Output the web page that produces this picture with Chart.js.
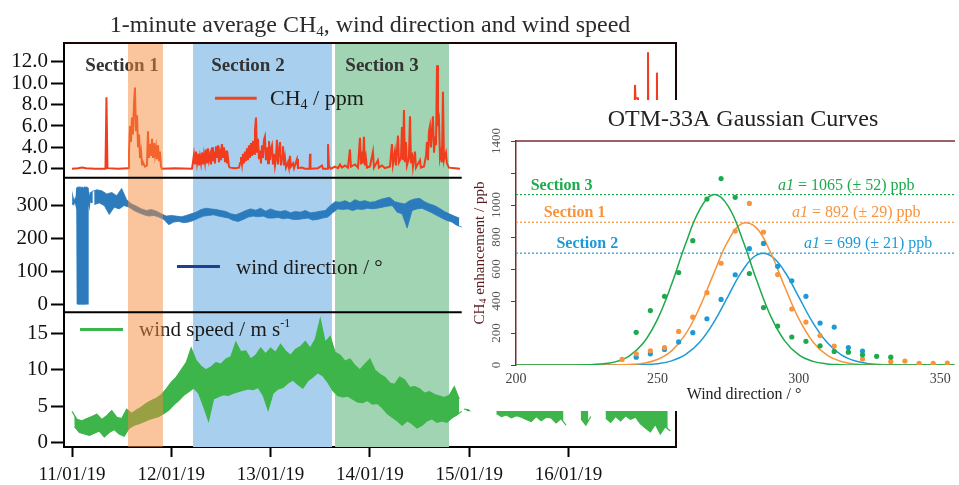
<!DOCTYPE html>
<html><head><meta charset="utf-8">
<script src="https://cdn.jsdelivr.net/npm/chart.js@4.4.1/dist/chart.umd.min.js"></script>
<style>
html,body{margin:0;padding:0;background:#fff;overflow:hidden}
#wrap{position:relative;width:959px;height:485px}
#main{position:absolute;left:0;top:0}
#inset{position:absolute;left:470px;top:100px;background:#fff}
</style></head><body>
<div id="wrap"><canvas id="main" width="959" height="485"></canvas><canvas id="inset" width="489" height="311"></canvas></div>
<script>
const SERIF = '"Liberation Serif","Times New Roman",serif';

// ===== Left chart: time axis in days after 11/01/19 00:00 =====
const dateTickDays = [0,1,2,3,4,5];
const dateLabels = ['11/01/19','12/01/19','13/01/19','14/01/19','15/01/19','16/01/19'];
const ch4Ticks = [2,4,6,8,10,12];
const wdTicks = [0,100,200,300];
const wsTicks = [0,5,10,15];

const sectionNames = ['Section 1','Section 2','Section 3'];
const sectionStartDay = [0.564,1.219,2.649];
const sectionEndDay   = [0.916,2.618,3.797];

// CH4 (ppm)
const ch4Day = [
 0.000,0.060,0.101,0.141,0.232,0.337,0.347,0.357,0.463,0.564,
 0.574,0.584,0.594,0.604,0.614,0.624,0.634,0.644,0.655,0.665,0.675,0.685,0.695,0.705,0.715,0.735,0.755,0.765,0.775,0.785,0.795,0.806,0.816,0.826,0.836,0.846,0.856,0.866,0.876,0.886,0.896,0.906,1.037,1.208,
 1.218,1.228,1.238,1.249,1.259,1.269,1.279,1.289,1.299,1.309,1.319,1.329,1.339,1.349,1.359,1.369,1.379,1.390,1.400,1.410,1.420,1.430,1.440,1.450,1.460,1.470,1.480,1.490,1.500,1.510,1.521,1.531,1.541,1.551,1.561,1.571,1.581,1.591,1.641,1.682,
 1.692,1.702,1.712,1.722,1.732,1.742,1.752,1.762,1.772,1.782,1.792,1.803,1.813,1.823,1.833,1.843,1.853,1.863,1.873,1.883,1.893,1.903,1.913,1.923,1.933,1.943,1.953,1.964,1.974,1.984,1.994,2.004,2.014,2.024,2.034,2.044,2.054,2.064,2.074,2.084,2.095,2.105,2.115,2.125,2.135,2.145,2.155,
 2.175,2.185,2.195,2.205,2.226,2.236,2.266,2.276,2.316,2.346,2.392,2.397,2.402,2.477,2.518,2.528,2.573,2.578,2.588,2.608,
 2.648,2.679,2.699,2.719,2.749,2.779,2.799,2.809,2.850,2.880,2.900,2.910,2.920,2.930,2.940,2.950,2.960,2.970,3.001,3.031,3.041,3.081,3.091,3.122,3.152,3.202,3.222,3.232,3.252,3.262,3.283,3.293,3.313,3.323,3.333,3.343,3.353,3.363,3.373,3.393,3.404,3.414,3.424,3.434,3.454,3.464,3.504,3.514,3.545,3.565,3.575,3.585,3.595,3.605,3.615,3.625,3.635,3.646,3.656,3.666,3.676,3.686,3.696,3.706,3.716,3.726,3.736,3.746,3.756,3.766,3.776,3.796,3.857,3.907,
 4.800,
 5.660,5.670,5.675,5.700,5.705,5.796,5.801,5.806,5.886,5.891,5.896];
const ch4Ppm = [
 2.0,2.05,2.12,2.05,2.0,2.0,8.7,2.05,2.0,2.05,
 3.5,6.0,4.5,6.8,5.2,8.0,9.6,5.5,7.0,4.0,5.2,3.0,3.6,2.4,2.6,2.2,2.3,5.5,3.0,4.3,3.2,4.8,3.0,4.4,3.3,4.0,2.9,4.2,2.7,3.6,2.2,2.0,2.05,2.0,
 2.6,3.3,2.4,3.6,2.6,3.4,2.3,3.1,2.5,3.5,2.4,3.3,2.6,3.8,2.5,3.9,2.8,3.3,2.4,4.0,2.7,3.6,2.5,4.1,3.0,4.2,2.6,3.5,2.8,4.3,3.0,4.0,2.6,3.7,2.5,3.0,2.2,2.1,2.05,2.1,
 2.5,3.1,2.4,3.4,2.5,3.6,2.7,3.9,2.8,4.2,3.0,4.4,3.2,4.6,3.4,5.6,6.8,3.5,4.8,2.9,3.7,2.5,4.2,3.0,4.7,5.0,2.8,4.0,2.5,4.6,2.8,3.9,4.2,2.4,3.4,2.3,3.0,4.7,2.4,3.6,4.5,2.3,3.2,4.1,2.3,3.0,2.1,
 2.6,2.1,3.2,2.2,2.5,2.05,2.9,2.05,2.1,2.0,2.0,3.4,2.0,2.05,2.3,2.0,2.0,4.3,2.2,2.0,
 2.2,2.05,2.4,2.1,2.3,2.1,3.8,2.2,2.4,2.1,4.9,2.4,3.6,2.5,5.0,2.3,3.0,2.1,2.2,3.6,2.1,2.8,2.1,2.3,2.05,2.2,4.3,2.4,3.6,2.3,5.1,2.6,3.0,5.9,2.8,7.5,2.6,4.5,2.3,3.0,6.9,2.5,3.5,2.2,3.6,2.1,2.8,2.1,2.2,3.2,4.5,2.8,5.5,6.0,4.0,5.6,6.9,3.5,5.0,4.2,11.7,6.0,6.5,3.0,3.5,2.6,9.2,2.8,3.2,3.5,2.5,2.1,2.05,2.0,
 null,
 2.0,9.85,8.6,8.6,2.0,2.0,12.9,2.0,2.0,11.0,2.0];

// Wind direction (deg): upper / lower edge of the 1-min band, every 0.05 day from day 0
// (first samples are covered by the 0/360 wrap-around record below)
const wdStart = 0, wdStep = 0.05;
const wdHigh = [null,null,null,null,343,348,345,335,340,330,352,318,305,298,290,285,288,283,275,268,270,268,266,270,275,280,288,292,290,288,285,282,275,272,278,285,290,286,292,283,290,284,282,285,278,282,280,285,278,280,283,285,300,312,310,315,308,318,312,315,310,312,318,322,325,312,308,305,315,320,322,312,305,300,292,282,275,268,262];
const wdLow  = [null,null,null,null,303,308,300,273,295,290,300,295,285,278,272,268,270,265,258,242,250,252,248,250,255,262,268,270,272,268,265,262,255,252,258,265,268,266,268,262,262,264,260,262,258,258,260,262,256,258,262,265,278,290,288,290,285,290,288,292,290,292,295,298,300,280,275,232,285,290,292,285,278,270,262,255,250,240,235];
// start of record incl. the 0/360 wrap-around period
const wdWrapDay = [0.000,0.010,0.020,0.030,0.040,0.050,0.055,0.060,0.065,0.070,0.075,0.080,0.085,0.090,0.095,0.100,0.105,0.110,0.115,0.120,0.125,0.130,0.135,0.140,0.145,0.150,0.155,0.160,0.165,0.175,0.185,0.195,0.200];
const wdWrapDeg = [305,322,308,318,304,355,3,357,1,356,2,358,4,354,1,357,2,356,3,355,1,358,2,356,4,357,2,354,330,305,340,310,343];

// Wind speed (m/s): upper / lower edge of band, every 0.05 day
const wsStart = 0, wsStep = 0.05;
const wsHigh = [4.3,3.2,3.0,3.3,3.6,3.9,3.2,3.7,4.4,3.5,3.3,4.6,4.0,4.5,4.9,5.4,5.8,6.1,6.6,7.4,8.3,9.0,10.0,11.0,13.0,11.3,10.5,10.0,10.4,11.0,10.8,11.5,11.8,13.8,12.5,12.6,11.5,12.0,13.0,12.2,13.0,12.4,13.5,12.6,12.0,12.8,13.2,13.9,13.0,14.2,17.0,13.8,14.6,12.4,12.0,11.2,11.5,10.6,10.0,10.8,11.5,10.0,9.4,9.0,8.2,8.0,9.0,8.6,7.6,7.7,7.4,6.8,7.0,6.6,6.4,6.2,6.5,7.7,6.0];
const wsLow  = [2.2,1.4,1.2,1.0,1.3,1.6,0.8,1.4,1.8,1.2,0.9,2.0,2.4,2.6,2.9,3.2,3.4,3.6,4.0,4.5,5.2,5.8,6.5,7.0,7.5,6.8,5.0,3.0,6.0,6.3,6.6,6.5,6.8,7.0,7.2,7.4,7.3,7.6,6.5,4.5,6.8,7.4,7.6,8.2,8.6,8.0,7.5,8.5,9.0,9.6,9.2,8.3,7.2,6.5,6.3,6.4,6.0,5.6,5.5,5.8,5.3,5.4,4.8,4.0,3.5,3.0,2.4,3.0,2.6,2.0,2.4,3.0,3.3,2.8,3.0,2.8,3.4,3.8,4.3];
const wsLateStart = 3.95;
const wsLateHigh = [4.6,4.5,null,4.5,null,null,5.2,5.8,5.0,6.1,5.5,5.9,5.3,6.0,5.4,5.7,5.1,6.2,5.6,5.0,5.8,null,null,5.5,6.0,5.2,null,null,5.6,5.9,5.1,6.3,5.4,5.8,5.0,6.0,5.5,6.4,5.2,5.9,5.6,5.3];
const wsLateLow  = [4.4,4.4,null,4.4,null,null,4.0,3.6,3.8,3.4,3.7,3.5,3.2,2.9,3.6,3.0,3.5,3.4,2.7,3.3,2.4,null,null,3.3,2.4,3.6,null,null,3.4,2.8,3.6,3.0,3.7,3.2,3.5,2.6,2.0,1.5,2.5,1.2,2.2,1.6];

// ===== Inset: OTM-33A Gaussian curves =====
const insetXTicks = [200,250,300,350];
const insetYTicks = [0,200,400,600,800,1000,1200,1400];
const insetYLabels = ['0','200','400','600','800','1000','','1400'];
const a1Value = [892, 699, 1065];   // Section 1, 2, 3
const a1Err = [29, 21, 52];
const s1Dir = [237.5,242.5,247.5,252.5,257.5,262.5,267.5,272.5,277.5,282.5,287.5,292.5,297.5,302.5,307.5,312.5,322.5,332.5,337.5,342.5,347.5,352.5];
const s1Enh = [35,70,89,109,210,299,452,636,837,1010,831,565,350,268,184,118,37,21,25,10,10,12];
const s2Dir = [242.5,247.5,252.5,257.5,262.5,267.5,272.5,277.5,282.5,287.5,292.5,297.5,302.5,307.5,312.5,317.5,322.5];
const s2Enh = [49,70,97,144,202,289,410,564,727,760,617,526,429,262,237,109,87];
const s3Dir = [242.5,247.5,252.5,257.5,262.5,267.5,272.5,277.5,282.5,287.5,292.5,297.5,302.5,307.5,312.5,317.5,322.5,327.5,332.5];
const s3Enh = [204,340,429,578,777,1037,1165,1048,572,359,243,175,148,120,85,80,64,54,49];
const curveDir = [200,205,210,215,220,225,230,235,240,245,250,255,260,265,270,275,280,285,290,295,300,305,310,315,320,325,330,335,340,345,350,355];
const curve1 = [0,0,0,0,0,0,0.1,0.7,3,11,34,88,194,363,576,776,885,857,703,489,288,144,61,22,6.7,1.7,0.4,0.1,0,0,0,0];
const curve2 = [0,0,0,0,0,0,0,0.1,0.6,2.4,8.5,26,66,144,269,431,588,687,684,583,424,263,140,63,24.6,8.2,2.3,0.55,0.1,0,0,0];
const curve3 = [0,0,0,0.06,0.3,1.5,5.9,19.7,56,137,285,504,759,973,1065,993,788,534,307,151,63,22.6,6.9,1.8,0.4,0.1,0,0,0,0,0,0];

// ---------- helpers ----------
function edge(start, step, vals, shift){ return vals.map((v,i)=>({x:start + i*step + shift, y:v})); }
function pairs(xs, ys){ return xs.map((x,i)=>({x:x, y:ys[i]})); }
function fontStr(p){ return (p.style||'normal')+' '+(p.weight||'normal')+' '+p.size+'px '+SERIF; }
function rich(ctx, parts, x, y, align){
  let w = 0;
  parts.forEach(p=>{ ctx.font = fontStr(p); p.w = ctx.measureText(p.t).width; w += p.w; });
  let cx = align==='center' ? x - w/2 : (align==='right' ? x - w : x);
  ctx.textAlign = 'left';
  parts.forEach(p=>{ ctx.font = fontStr(p); ctx.fillText(p.t, cx, y + (p.dy||0)); cx += p.w; });
}

Chart.defaults.font.family = SERIF;

const SHADE = [
  {color:'rgba(245,140,60,0.5)', over:true},
  {color:'#a8d0ee', over:false},
  {color:'#a0d4b2', over:false}
];
const WD_COL = '#2b7bbd', WS_COL = '#3db54a', CH4_COL = '#f23c1e';

const mainDecor = {
  id:'mainDecor',
  beforeDatasetsDraw(chart){
    const {ctx, chartArea:a, scales:{x}} = chart;
    ctx.save();
    sectionStartDay.forEach((s,i)=>{
      if (SHADE[i].over) return;
      const x0 = x.getPixelForValue(s), x1 = x.getPixelForValue(sectionEndDay[i]);
      ctx.fillStyle = SHADE[i].color;
      ctx.fillRect(x0, a.top, x1-x0, a.bottom-a.top);
    });
    ctx.restore();
  },
  afterDatasetsDraw(chart){
    const {ctx, chartArea:a, scales:{x, yc, yd, ys}} = chart;
    ctx.save();
    ctx.textBaseline = 'alphabetic';
    ctx.fillStyle = '#333';
    const secLabelDay = [0.504,1.772,3.122];
    sectionNames.forEach((n,i)=>{
      rich(ctx, [{t:n, size:19, weight:'bold'}], x.getPixelForValue(secLabelDay[i]), yc.getPixelForValue(11.16), 'center');
    });
    const leg = [
      {sc:yc, v:8.6, x0:1.44, x1:1.86, tx:1.994, col:'#f0441f', parts:[{t:'CH',size:22},{t:'4',size:14,dy:4},{t:' / ppm',size:22}]},
      {sc:yd, v:115, x0:1.057, x1:1.49, tx:1.652, col:'#1f3f8f', parts:[{t:'wind direction / °',size:21}]},
      {sc:ys, v:15.55, x0:0.081, x1:0.514, tx:0.675, col:'#3db54a', parts:[{t:'wind speed / m s',size:21},{t:'-1',size:12,dy:-9}]}
    ];
    leg.forEach(L=>{
      const py = L.sc.getPixelForValue(L.v);
      ctx.strokeStyle = L.col; ctx.lineWidth = 3;
      ctx.beginPath(); ctx.moveTo(x.getPixelForValue(L.x0), py); ctx.lineTo(x.getPixelForValue(L.x1), py); ctx.stroke();
      ctx.fillStyle = '#1a1a1a';
      rich(ctx, L.parts, x.getPixelForValue(L.tx), py + 7, 'left');
    });
    sectionStartDay.forEach((s,i)=>{
      if (!SHADE[i].over) return;
      const x0 = x.getPixelForValue(s), x1 = x.getPixelForValue(sectionEndDay[i]);
      ctx.fillStyle = SHADE[i].color;
      ctx.fillRect(x0, a.top, x1-x0, a.bottom-a.top);
    });
    const recEnd = x.getPixelForValue(wdStart + (wdHigh.length-1)*wdStep + wdStep/2);
    ctx.strokeStyle = '#000'; ctx.lineWidth = 2;
    [yd.top, ys.top].forEach(py=>{ ctx.beginPath(); ctx.moveTo(a.left, py); ctx.lineTo(recEnd, py); ctx.stroke(); });
    ctx.strokeStyle = '#1a0505';
    ctx.beginPath(); ctx.moveTo(a.left, a.top); ctx.lineTo(a.right, a.top); ctx.lineTo(a.right, a.bottom); ctx.stroke();
    ctx.fillStyle = '#2b2b2b';
    rich(ctx, [{t:'1-minute average CH',size:24},{t:'4',size:15,dy:4},{t:', wind direction and wind speed',size:24}], (a.left+a.right)/2, a.top - 11, 'center');
    ctx.restore();
  }
};

const yCommon = (ticksArr, fmt, weight, min, max) => ({
  type:'linear', position:'left', stack:'left', stackWeight:1, weight:weight, min:min, max:max,
  afterFit: s => { s.width = 64; },
  afterBuildTicks: s => { s.ticks = ticksArr.map(v=>({value:v})); },
  ticks:{ callback: fmt, font:{family:SERIF, size:21}, color:'#111', padding:3, autoSkip:false },
  grid:{ drawOnChartArea:false, drawTicks:true, tickLength:13, tickWidth:2, tickColor:'#000', color:'#000' },
  border:{ display:true, color:'#000', width:2 }
});

const band = (data, col, axis, fillTo, bw) => ({data:data, yAxisID:axis, borderColor:col, backgroundColor:col, borderWidth:bw, pointRadius:0, tension:0, spanGaps:false, fill:fillTo});

new Chart(document.getElementById('main'), {
  type:'line',
  data:{ datasets:[
    {data: pairs(ch4Day, ch4Ppm), yAxisID:'yc', borderColor:CH4_COL, borderWidth:2, pointRadius:0, spanGaps:false, tension:0, fill:false},
    band(edge(wdStart, wdStep, wdHigh, 0), WD_COL, 'yd', '+1', 0.8),
    band(edge(wdStart, wdStep, wdLow, wdStep/2), WD_COL, 'yd', false, 0.8),
    {data: pairs(wdWrapDay, wdWrapDeg), yAxisID:'yd', borderColor:WD_COL, borderWidth:1.6, pointRadius:0, tension:0, fill:false},
    band(edge(wsStart, wsStep, wsHigh, 0), WS_COL, 'ys', '+1', 1.2),
    band(edge(wsStart, wsStep, wsLow, wsStep/2), WS_COL, 'ys', false, 1.2),
    band(edge(wsLateStart, wsStep, wsLateHigh, 0), WS_COL, 'ys', '+1', 1.2),
    band(edge(wsLateStart, wsStep, wsLateLow, wsStep/2), WS_COL, 'ys', false, 1.2)
  ]},
  options:{
    responsive:false, animation:false, devicePixelRatio:1,
    layout:{ padding:{left:0, right:283, top:43, bottom:0} },
    plugins:{ legend:{display:false}, title:{display:false}, tooltip:{enabled:false} },
    scales:{
      x:{ type:'linear', position:'bottom', min:-0.0806, max:6.083,
        afterFit: s => { s.height = 38; },
        afterBuildTicks: s => { s.ticks = dateTickDays.map(v=>({value:v})); },
        ticks:{ callback:(v,i)=>dateLabels[i], font:{family:SERIF, size:19}, color:'#111', padding:7, maxRotation:0, autoSkip:false },
        grid:{ drawOnChartArea:false, drawTicks:true, tickLength:10, tickWidth:2, tickColor:'#000', color:'#000' },
        border:{ display:true, color:'#000', width:2 } },
      yc: yCommon(ch4Ticks, v=>Number(v).toFixed(1), 3, 1.159, 13.776),
      yd: yCommon(wdTicks, v=>String(v), 2, -24.2, 384.8),
      ys: yCommon(wsTicks, v=>String(v), 1, -0.59, 17.9)
    }
  },
  plugins:[mainDecor]
});

// ---------- inset ----------
const SEC_COL = ['#f7943c','#1c9ad8','#1caa4c'];
const MAROON = '#7b2e2e';
const insetDecor = {
  id:'insetDecor',
  beforeDatasetsDraw(chart){
    const {ctx, chartArea:a, scales:{y}} = chart;
    ctx.save();
    ctx.lineWidth = 1.2; ctx.setLineDash([2,2]);
    a1Value.forEach((v,i)=>{
      const py = y.getPixelForValue(v);
      ctx.strokeStyle = SEC_COL[i];
      ctx.beginPath(); ctx.moveTo(a.left, py); ctx.lineTo(a.right, py); ctx.stroke();
    });
    ctx.restore();
  },
  afterDraw(chart){
    const {ctx, chartArea:a, scales:{x, y}} = chart;
    ctx.save();
    ctx.strokeStyle = MAROON; ctx.lineWidth = 1.5;
    ctx.beginPath(); ctx.moveTo(a.left, a.top); ctx.lineTo(a.right, a.top); ctx.stroke();
    ctx.fillStyle = '#222'; ctx.textBaseline = 'middle';
    rich(ctx, [{t:'OTM-33A Gaussian Curves', size:24}], a.left + 227, a.top - 21, 'center');
    rich(ctx, [{t:'Wind direction / °', size:16}], a.left + 228, a.bottom + 30, 'center');
    ctx.fillStyle = '#555';
    insetYTicks.forEach((v,i)=>{
      ctx.save(); ctx.translate(a.left - 19, y.getPixelForValue(v)); ctx.rotate(-Math.PI/2);
      ctx.textBaseline = 'middle';
      rich(ctx, [{t:insetYLabels[i], size:13}], 0, 0, 'center');
      ctx.restore();
    });
    ctx.save(); ctx.translate(a.left - 36, (a.top + a.bottom)/2); ctx.rotate(-Math.PI/2);
    ctx.fillStyle = '#5a1c1c'; ctx.textBaseline = 'middle';
    rich(ctx, [{t:'CH',size:15},{t:'4',size:10,dy:3},{t:' enhancement / ppb',size:15}], 0, 0, 'center');
    ctx.restore();
    const secLabelDir = [220.7, 225.2, 216.1];
    const a1LabelEnd = [343.0, 347.2, 340.9];
    const secNames = ['Section 1','Section 2','Section 3'];
    ctx.textBaseline = 'middle';
    a1Value.forEach((v,i)=>{
      const py = y.getPixelForValue(v) - 9;
      ctx.fillStyle = SEC_COL[i];
      rich(ctx, [{t:secNames[i], size:16, weight:'bold'}], x.getPixelForValue(secLabelDir[i]), py, 'center');
      rich(ctx, [{t:'a1', size:16, style:'italic'},{t:' = '+v+' (± '+a1Err[i]+') ppb', size:16}], x.getPixelForValue(a1LabelEnd[i]), py, 'right');
    });
    ctx.restore();
  }
};

new Chart(document.getElementById('inset'), {
  type:'scatter',
  data:{ datasets:[
    {data: pairs(s3Dir, s3Enh), backgroundColor:SEC_COL[2], pointRadius:2.6, borderWidth:0, pointBorderWidth:0},
    {data: pairs(s1Dir, s1Enh), backgroundColor:SEC_COL[0], pointRadius:2.6, borderWidth:0, pointBorderWidth:0},
    {data: pairs(s2Dir, s2Enh), backgroundColor:SEC_COL[1], pointRadius:2.6, borderWidth:0, pointBorderWidth:0},
    {data: pairs(curveDir, curve3), showLine:true, borderColor:SEC_COL[2], borderWidth:1.5, pointRadius:0, tension:0.4},
    {data: pairs(curveDir, curve1), showLine:true, borderColor:SEC_COL[0], borderWidth:1.5, pointRadius:0, tension:0.4},
    {data: pairs(curveDir, curve2), showLine:true, borderColor:SEC_COL[1], borderWidth:1.5, pointRadius:0, tension:0.4}
  ]},
  options:{
    responsive:false, animation:false, devicePixelRatio:1,
    layout:{ padding:{left:0, right:0, top:41, bottom:0} },
    plugins:{ legend:{display:false}, title:{display:false}, tooltip:{enabled:false} },
    scales:{
      x:{ type:'linear', min:200, max:355.2,
        afterFit: s => { s.height = 46; },
        afterBuildTicks: s => { s.ticks = insetXTicks.map(v=>({value:v})); },
        ticks:{ font:{family:SERIF, size:14}, color:'#444', padding:6, maxRotation:0, autoSkip:false },
        grid:{ display:false, drawTicks:false },
        border:{ display:false } },
      y:{ type:'linear', min:0, max:1400,
        afterFit: s => { s.width = 46; },
        afterBuildTicks: s => { s.ticks = insetYTicks.map(v=>({value:v})); },
        ticks:{ display:false },
        grid:{ drawOnChartArea:false, drawTicks:true, tickLength:5, tickWidth:1, tickColor:MAROON, color:MAROON },
        border:{ display:true, color:MAROON, width:1.5 } }
    }
  },
  plugins:[insetDecor]
});
</script>
</body></html>
